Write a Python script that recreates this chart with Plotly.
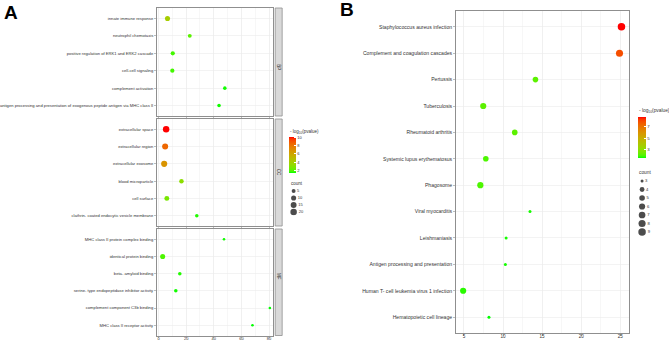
import plotly.graph_objects as go

# ---------------- data ----------------
bp_terms = ["innate immune response", "neutrophil chemotaxis",
            "positive regulation of ERK1 and ERK2 cascade", "cell-cell signaling",
            "complement activation",
            "antigen processing and presentation of exogenous peptide antigen via MHC class II"]
bp_x = [6.5, 22.6, 10.3, 10.0, 48.0, 43.8]
bp_logp = [4.2, 2.2, 1.9, 1.9, 1.6, 1.6]
bp_count = [10, 5, 6, 6, 4, 4]

cc_terms = ["extracellular space", "extracellular region", "extracellular exosome",
            "blood microparticle", "cell surface",
            "clathrin- coated endocytic vesicle membrane"]
cc_x = [5.5, 4.8, 4.1, 16.6, 6.0, 27.7]
cc_logp = [10.25, 8.6, 6.9, 3.3, 2.8, 1.7]
cc_count = [20, 16, 17, 7, 9, 4]

mf_terms = ["MHC class II protein complex binding", "identical protein binding",
            "beta- amyloid binding", "serine- type endopeptidase inhibitor activity",
            "complement component C3b binding", "MHC class II receptor activity"]
mf_x = [47.4, 3.0, 15.4, 12.5, 80.6, 68.0]
mf_logp = [1.6, 2.0, 1.7, 1.6, 1.5, 1.5]
mf_count = [3, 10, 4, 4, 3, 3]

go_facets = ["BP", "CC", "MF"]
go_ticks = [0, 20, 40, 60, 80]
go_cb_ticks = [2, 4, 6, 8, 10]
go_size_breaks = [5, 10, 15, 20]

kegg_terms = ["Staphylococcus aureus infection", "Complement and coagulation cascades",
              "Pertussis", "Tuberculosis", "Rheumatoid arthritis",
              "Systemic lupus erythematosus", "Phagosome", "Viral myocarditis",
              "Leishmaniasis", "Antigen processing and presentation",
              "Human T- cell leukemia virus 1 infection", "Hematopoietic cell lineage"]
kegg_x = [25.15, 24.9, 14.15, 7.47, 11.5, 7.8, 7.1, 13.45, 10.4, 10.3, 4.9, 8.2]
kegg_logp = [8.7, 7.9, 2.2, 2.2, 2.2, 2.0, 2.0, 1.7, 1.7, 1.7, 1.8, 1.6]
kegg_count = [9, 8, 5, 6, 5, 5, 6, 3, 3, 3, 6, 3]
kegg_ticks = [5, 10, 15, 20, 25]
kegg_cb_ticks = [3, 5, 7]
kegg_size_breaks = [3, 4, 5, 6, 7, 8, 9]

# ---------------- helpers ----------------
W, H = 669, 343
FONT = "Liberation Sans, Arial, sans-serif"


def px(p):
    return p / W


def py(p):
    return 1 - p / H


def hex_to_lab(h):
    rgb = [int(h[i:i + 2], 16) / 255 for i in (1, 3, 5)]
    lin = [c / 12.92 if c <= 0.04045 else ((c + 0.055) / 1.055) ** 2.4 for c in rgb]
    X = 0.4124 * lin[0] + 0.3576 * lin[1] + 0.1805 * lin[2]
    Y = 0.2126 * lin[0] + 0.7152 * lin[1] + 0.0722 * lin[2]
    Z = 0.0193 * lin[0] + 0.1192 * lin[1] + 0.9505 * lin[2]

    def f(t):
        return t ** (1 / 3) if t > (6 / 29) ** 3 else t / (3 * (6 / 29) ** 2) + 4 / 29
    fx, fy, fz = f(X / 0.95047), f(Y), f(Z / 1.08883)
    return 116 * fy - 16, 500 * (fx - fy), 200 * (fy - fz)


def lab_to_hex(L, a, b):
    fy = (L + 16) / 116
    fx = fy + a / 500
    fz = fy - b / 200

    def finv(t):
        return t ** 3 if t > 6 / 29 else 3 * (6 / 29) ** 2 * (t - 4 / 29)
    X, Y, Z = 0.95047 * finv(fx), finv(fy), 1.08883 * finv(fz)
    r = 3.2406 * X - 1.5372 * Y - 0.4986 * Z
    g = -0.9689 * X + 1.8758 * Y + 0.0415 * Z
    bb = 0.0557 * X - 0.2040 * Y + 1.0570 * Z
    out = []
    for c in (r, g, bb):
        c = 12.92 * c if c <= 0.0031308 else 1.055 * c ** (1 / 2.4) - 0.055
        out.append(int(round(min(max(c, 0), 1) * 255)))
    return "#%02X%02X%02X" % tuple(out)


lo, hi = hex_to_lab("#00FF00"), hex_to_lab("#FF0000")
N = 20
colorscale = [[i / N, lab_to_hex(*[lo[k] + (hi[k] - lo[k]) * i / N for k in range(3)])]
              for i in range(N + 1)]


def sizes(counts, cmin, cmax, dmin, dmax):
    return [dmin + (dmax - dmin) * ((c - cmin) / (cmax - cmin)) ** 0.5 for c in counts]


go_cmin = min(bp_count + cc_count + mf_count)
go_cmax = max(bp_count + cc_count + mf_count)
k_cmin, k_cmax = min(kegg_count), max(kegg_count)
A_DMIN, A_DMAX = 2.6, 6.5
B_DMIN, B_DMAX = 3.0, 7.5

fig = go.Figure()

facet_data = [(bp_terms, bp_x, bp_logp, bp_count),
              (cc_terms, cc_x, cc_logp, cc_count),
              (mf_terms, mf_x, mf_logp, mf_count)]
for i, (terms, xs, lp, cnt) in enumerate(facet_data):
    ax = "" if i == 0 else str(i + 1)
    fig.add_trace(go.Scatter(
        x=xs, y=terms, mode="markers", xaxis="x" + ax, yaxis="y" + ax,
        marker=dict(color=lp, coloraxis="coloraxis", opacity=1,
                    size=sizes(cnt, go_cmin, go_cmax, A_DMIN, A_DMAX), line=dict(width=0)),
        showlegend=False, hoverinfo="skip"))

fig.add_trace(go.Scatter(
    x=kegg_x, y=kegg_terms, mode="markers", xaxis="x4", yaxis="y4",
    marker=dict(color=kegg_logp, coloraxis="coloraxis2", opacity=1,
                size=sizes(kegg_count, k_cmin, k_cmax, B_DMIN, B_DMAX), line=dict(width=0)),
    showlegend=False, hoverinfo="skip"))

# size legends
fig.add_trace(go.Scatter(
    x=[0.25] * len(go_size_breaks), y=list(range(len(go_size_breaks))),
    xaxis="x5", yaxis="y5", mode="markers+text",
    text=[str(v) for v in go_size_breaks], textposition="middle right",
    textfont=dict(size=4, color="#333"),
    marker=dict(color="black", size=sizes(go_size_breaks, go_cmin, go_cmax, A_DMIN, A_DMAX),
                line=dict(width=0)),
    showlegend=False, hoverinfo="skip"))
fig.add_trace(go.Scatter(
    x=[0.2] * len(kegg_size_breaks), y=list(range(len(kegg_size_breaks))),
    xaxis="x6", yaxis="y6", mode="markers+text",
    text=[str(v) for v in kegg_size_breaks], textposition="middle right",
    textfont=dict(size=4.2, color="#333"),
    marker=dict(color="black", size=sizes(kegg_size_breaks, k_cmin, k_cmax, B_DMIN, B_DMAX),
                line=dict(width=0)),
    showlegend=False, hoverinfo="skip"))

BORDER = "#8f8f8f"
GRID = "#ebebeb"
TICKC = "#333333"

common_x = dict(showline=True, mirror=True, linecolor=BORDER, linewidth=1,
                showgrid=True, gridcolor=GRID, gridwidth=0.6, zeroline=False,
                ticks="outside", ticklen=1.5, tickcolor=BORDER, tickwidth=0.6)

a_xdom = [px(155), px(272)]
a_ydoms = [[py(116), py(8)], [py(226), py(119)], [py(335.5), py(229)]]
a_xrange = [-1.44, 83.0]

layout = dict(
    width=W, height=H, margin=dict(l=0, r=0, t=0, b=0),
    paper_bgcolor="white", plot_bgcolor="white",
    font=dict(family=FONT, color=TICKC),
)

for i, terms in enumerate([bp_terms, cc_terms, mf_terms]):
    ax = "" if i == 0 else str(i + 1)
    xa = dict(common_x, domain=a_xdom, range=a_xrange, tickvals=go_ticks,
              minor=dict(dtick=10, tick0=0, showgrid=True, gridcolor=GRID, gridwidth=0.4),
              anchor="y" + ax, showticklabels=(i == 2), ticklabelstandoff=-3,
              tickfont=dict(size=4, color=TICKC))
    if i != 2:
        xa["matches"] = "x3"
    ya = dict(common_x, domain=a_ydoms[i], anchor="x" + ax, type="category",
              categoryorder="array", categoryarray=terms[::-1], range=[-0.6, 5.6],
              tickfont=dict(size=4.15, color=TICKC))
    layout["xaxis" + ax] = xa
    layout["yaxis" + ax] = ya

layout["xaxis4"] = dict(common_x, domain=[px(455), px(629)], range=[3.94, 26.13],
                        tickvals=kegg_ticks, anchor="y4", ticklabelstandoff=-3,
                        minor=dict(dtick=2.5, tick0=0, showgrid=True, gridcolor=GRID, gridwidth=0.4),
                        tickfont=dict(size=4.6, color=TICKC))
layout["yaxis4"] = dict(common_x, domain=[py(333), py(11)], anchor="x4", type="category",
                        categoryorder="array", categoryarray=kegg_terms[::-1],
                        range=[-0.6, len(kegg_terms) - 0.4],
                        tickfont=dict(size=5.1, color=TICKC))

layout["xaxis5"] = dict(domain=[px(286), px(312)], range=[0, 1], visible=False, anchor="y5")
layout["yaxis5"] = dict(domain=[py(215.5), py(187.5)], range=[3.5, -0.5], visible=False, anchor="x5")
layout["xaxis6"] = dict(domain=[px(636), px(666)], range=[0, 1], visible=False, anchor="y6")
layout["yaxis6"] = dict(domain=[py(236.25), py(176.75)], range=[6.5, -0.5], visible=False, anchor="x6")

cb_title = "- log<sub>10</sub>(pvalue)"
layout["coloraxis"] = dict(
    colorscale=colorscale,
    cmin=min(bp_logp + cc_logp + mf_logp), cmax=max(bp_logp + cc_logp + mf_logp),
    colorbar=dict(thickness=7, thicknessmode="pixels", len=35.5, lenmode="pixels",
                  x=px(288), xanchor="left", y=py(154.5), yanchor="middle",
                  xpad=0, ypad=0, outlinewidth=0, ticks="inside", tickcolor="white",
                  ticklen=2, tickvals=go_cb_ticks, tickfont=dict(size=4, color=TICKC)))
layout["coloraxis2"] = dict(
    colorscale=colorscale, cmin=min(kegg_logp), cmax=max(kegg_logp),
    colorbar=dict(thickness=8, thicknessmode="pixels", len=41, lenmode="pixels",
                  x=px(637.7), xanchor="left", y=py(137.5), yanchor="middle",
                  xpad=0, ypad=0, outlinewidth=0, ticks="inside", tickcolor="white",
                  ticklen=2, tickvals=kegg_cb_ticks, tickfont=dict(size=4.3, color=TICKC)))

shapes = []
annotations = []
for i, lab in enumerate(go_facets):
    y0, y1 = a_ydoms[i]
    shapes.append(dict(type="rect", xref="paper", yref="paper", x0=px(274), x1=px(281),
                       y0=y0, y1=y1, fillcolor="#d9d9d9", line=dict(color=BORDER, width=0.8)))
    annotations.append(dict(text=lab, xref="paper", yref="paper", x=px(277.5),
                            y=(y0 + y1) / 2, showarrow=False, textangle=90,
                            font=dict(size=4.5, color="#1a1a1a")))

annotations += [
    dict(text="<b>A</b>", xref="paper", yref="paper", x=px(1), y=py(13), xanchor="left",
         yanchor="middle", showarrow=False, borderpad=0, font=dict(size=19, color="black")),
    dict(text="<b>B</b>", xref="paper", yref="paper", x=px(338), y=py(10), xanchor="left",
         yanchor="middle", showarrow=False, borderpad=0, font=dict(size=19, color="black")),
    dict(text=cb_title, xref="paper", yref="paper", x=px(287), y=py(132), xanchor="left",
         yanchor="middle", showarrow=False, font=dict(size=4.5, color=TICKC)),
    dict(text=cb_title, xref="paper", yref="paper", x=px(636.5), y=py(111), xanchor="left",
         yanchor="middle", showarrow=False, font=dict(size=4.8, color=TICKC)),
    dict(text="count", xref="paper", yref="paper", x=px(287.5), y=py(183), xanchor="left",
         yanchor="middle", showarrow=False, font=dict(size=4.5, color=TICKC)),
    dict(text="count", xref="paper", yref="paper", x=px(637), y=py(172), xanchor="left",
         yanchor="middle", showarrow=False, font=dict(size=4.8, color=TICKC)),
]
layout["shapes"] = shapes
layout["annotations"] = annotations

fig.update_layout(**layout)
fig.write_html("out.html", config={"displayModeBar": False, "staticPlot": True},
               post_script="document.body.style.margin='0';document.body.style.padding='0';"
                           "document.documentElement.style.overflow='hidden';")
